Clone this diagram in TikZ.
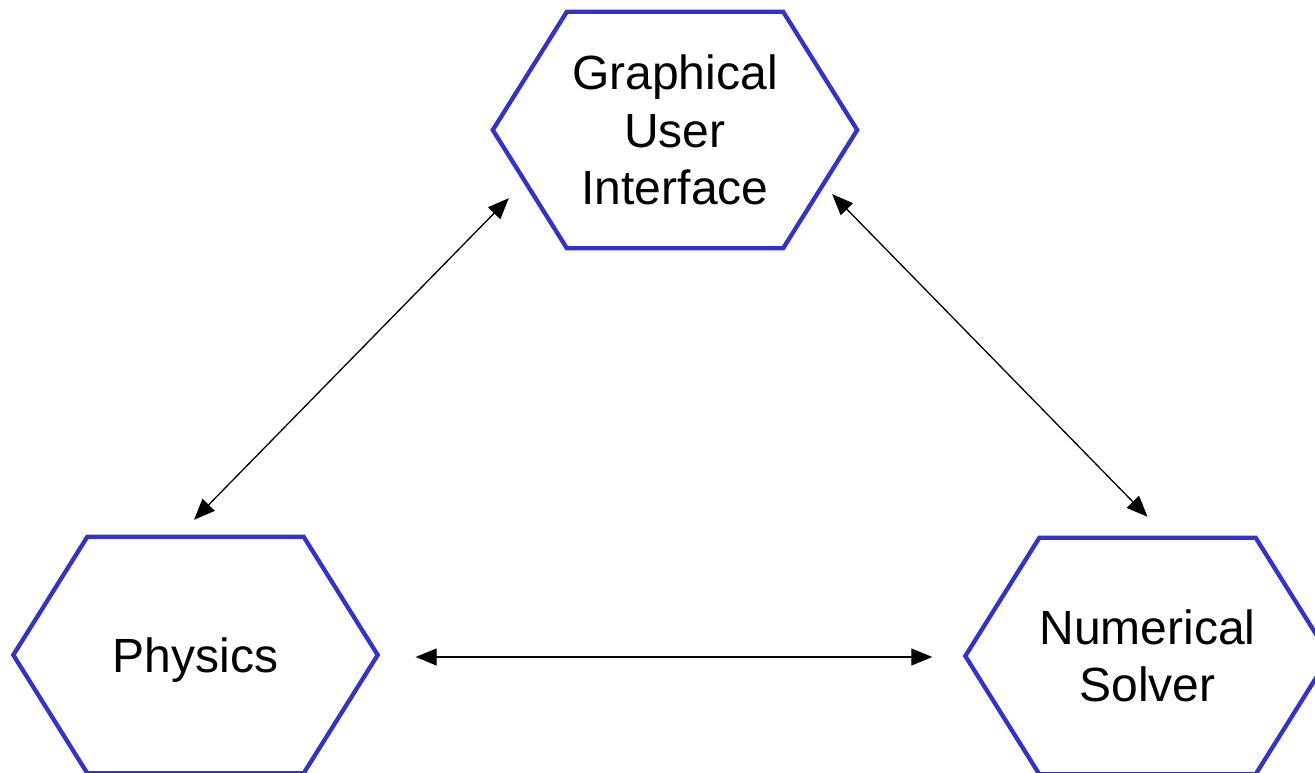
\documentclass[tikz,border=0pt]{standalone}
\usepackage{fontspec}
\setmainfont{Liberation Sans}
\usetikzlibrary{arrows.meta}
\definecolor{hexblue}{HTML}{3333CC}
\tikzset{
  module/.style={minimum width=364pt, minimum height=236pt, inner sep=0pt,
    align=center, font=\fontsize{48}{57.5}\selectfont},
  hexline/.style={draw=hexblue, line width=4.3pt, line join=miter},
  link/.style={line width=1.3pt, {Triangle[length=21pt,width=17pt]}-{Triangle[length=21pt,width=17pt]}}
}
% outline of a flat-topped hexagon drawn around a module node
\newcommand{\hexaround}[1]{%
  \draw[hexline] (#1.west) -- ([xshift=74pt]#1.north west) -- ([xshift=-74pt]#1.north east)
    -- (#1.east) -- ([xshift=-74pt]#1.south east) -- ([xshift=74pt]#1.south west) -- cycle;}
\begin{document}
\begin{tikzpicture}[x=1pt, y=-1pt]
  \useasboundingbox (0,0) rectangle (1315,773);
  \clip (0,0) rectangle (1315,773);

  \node[module] (gui)  at (675,130)   {Graphical\\User\\Interface};
  \node[module, text depth=0pt] (phys) at (195.5,655) {Physics};
  \node[module] (sol)  at (1147.5,656) {Numerical\\Solver};

  \hexaround{gui}
  \hexaround{phys}
  \hexaround{sol}

  \draw[link] ([shift={(-1.5,-17)}]phys.north) -- ([shift={(16,-50)}]gui.south west);
  \draw[link] ([shift={(-25,-54)}]gui.south east) -- ([shift={(0,-21)}]sol.north);
  \draw[link] ([shift={(38,2)}]phys.east) -- ([shift={(-33,1)}]sol.west);
\end{tikzpicture}
\end{document}
